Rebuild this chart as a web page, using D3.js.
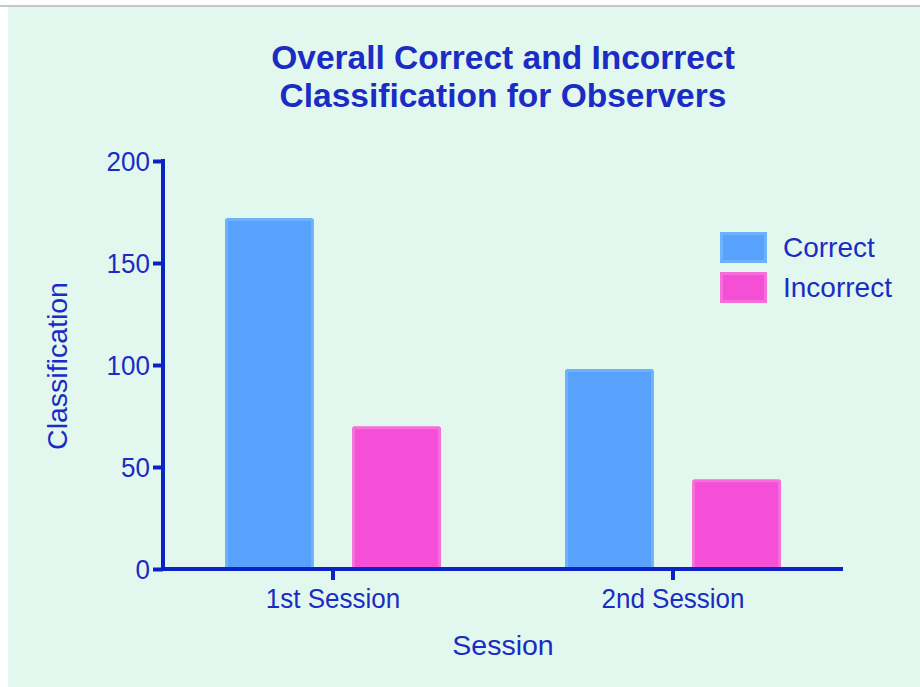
<!DOCTYPE html>
<html>
<head>
<meta charset="utf-8">
<script src="https://cdn.jsdelivr.net/npm/d3@7"></script>
<style>
  html, body { margin: 0; padding: 0; background: #ffffff; }
  svg { display: block; }
  text { font-family: "Liberation Sans", Arial, Helvetica, sans-serif; }
</style>
</head>
<body>
<div id="chart"></div>
<script>
const sessions = ["1st Session", "2nd Session"];
const seriesNames = ["Correct", "Incorrect"];
const correctValues = [172, 98];
const incorrectValues = [70, 44];
const yTicks = [0, 50, 100, 150, 200];
const titleLines = ["Overall Correct and Incorrect", "Classification for Observers"];
const xLabel = "Session";
const yLabel = "Classification";

const W = 920, H = 687;
const fills = { Correct: "#58a1fc", Incorrect: "#f64fd7" };
const strokes = { Correct: "#6db2fd", Incorrect: "#f76ddc" };
const ink = "#1a2cc4";
const axisInk = "#0b22c6";

const svg = d3.select("#chart").append("svg").attr("width", W).attr("height", H);

svg.append("rect").attr("x", 8).attr("y", 7).attr("width", W - 8).attr("height", H - 7).attr("fill", "#e2f8ee");
svg.append("line").attr("x1", 0).attr("x2", W).attr("y1", 6).attr("y2", 6).attr("stroke", "#b4b4b4").attr("stroke-width", 1.5);

const x0 = d3.scaleBand().domain(sessions).range([163, 843]);
const x1 = d3.scaleBand().domain(seriesNames).range([-108, 108]).paddingInner(0.3);
const y = d3.scaleLinear().domain([0, 200]).range([569, 161]);

const data = sessions.map((s, i) => ({ session: s, values: [
  { key: "Correct", value: correctValues[i] },
  { key: "Incorrect", value: incorrectValues[i] }
]}));

// bars
const g = svg.append("g");
data.forEach(d => {
  const cx = x0(d.session) + x0.bandwidth() / 2;
  d.values.forEach(v => {
    const bx = cx + x1(v.key);
    const by = y(v.value);
    g.append("rect")
      .attr("x", bx + 1.5).attr("y", by + 1.5)
      .attr("width", x1.bandwidth() - 3).attr("height", y(0) - by - 1.5)
      .attr("fill", fills[v.key])
      .attr("stroke", strokes[v.key]).attr("stroke-width", 3).attr("rx", 1);
  });
});

// y axis
const yAxis = d3.axisLeft(y).tickValues(yTicks).tickSize(10).tickPadding(3).tickFormat(d3.format("d"));
const ya = svg.append("g").attr("transform", "translate(163,0)").call(yAxis);
ya.select(".domain").attr("stroke", axisInk).attr("stroke-width", 4).attr("d", `M0,${y(200)-2}V${y(0)+2}`);
ya.selectAll(".tick line").attr("stroke", axisInk).attr("stroke-width", 4);
ya.selectAll(".tick text").attr("fill", ink).attr("font-size", 26)
  .attr("x", null).attr("dy", null)
  .attr("transform", "translate(-13,9) scale(1,1.09)");

// x axis
const xAxis = d3.axisBottom(x0).tickSize(11).tickPadding(8);
const xa = svg.append("g").attr("transform", `translate(0,${y(0)})`).call(xAxis);
xa.select(".domain").attr("stroke", axisInk).attr("stroke-width", 4).attr("d", `M161,0H843`);
xa.selectAll(".tick line").attr("stroke", axisInk).attr("stroke-width", 4);
xa.selectAll(".tick text").attr("fill", ink).attr("font-size", 26)
  .attr("y", null).attr("dy", null)
  .attr("transform", "translate(0,39) scale(1,1.09)");

// title
svg.append("g").selectAll("text").data(titleLines).join("text")
  .attr("x", 503).attr("y", (d, i) => 69 + i * 38)
  .attr("text-anchor", "middle").attr("font-weight", "bold").attr("font-size", 33.5)
  .attr("fill", ink).text(d => d);

// axis labels
svg.append("text").attr("x", 503).attr("y", 655).attr("text-anchor", "middle")
  .attr("font-size", 28.5).attr("fill", ink).text(xLabel);
svg.append("text").attr("transform", "translate(67,366) rotate(-90)").attr("text-anchor", "middle")
  .attr("font-size", 28.5).attr("fill", ink).text(yLabel);

// legend
const lg = svg.append("g").selectAll("g").data(seriesNames).join("g")
  .attr("transform", (d, i) => `translate(720,${232 + i * 40})`);
lg.append("rect").attr("x", 1.5).attr("y", 1.5).attr("width", 44).attr("height", 28)
  .attr("fill", d => fills[d]).attr("stroke", d => strokes[d]).attr("stroke-width", 3);
lg.append("text").attr("x", 63).attr("y", 25).attr("font-size", 28).attr("fill", ink).text(d => d);
</script>
</body>
</html>
